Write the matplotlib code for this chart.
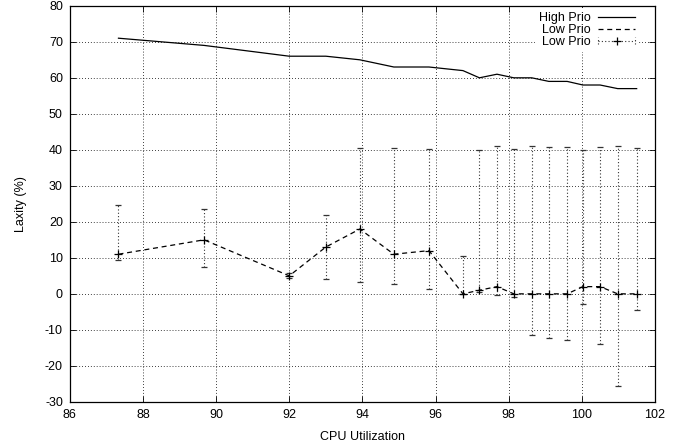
import matplotlib
matplotlib.use("Agg")
import matplotlib.pyplot as plt
from matplotlib.lines import Line2D
from matplotlib.legend_handler import HandlerBase
import numpy as np

# CPU utilization points (shared by both series)
cpu = [87.33, 89.67, 92.0, 93.0, 93.93, 94.86, 95.82, 96.75, 97.2, 97.68,
       98.14, 98.63, 99.1, 99.6, 100.03, 100.5, 100.98, 101.5]

high_prio = [71, 69, 66, 66, 65, 63, 63, 62, 60, 61,
             60, 60, 59, 59, 58, 58, 57, 57]

low_prio = [11, 15, 5, 13, 18, 11, 12, 0, 1, 2,
            0, 0, 0, 0, 2, 2, 0, 0]
low_max = [24.7, 23.6, 5.8, 21.9, 40.5, 40.5, 40.3, 10.5, 40, 41,
           40.3, 41, 40.9, 40.8, 40, 40.9, 41, 40.5]
low_min = [9.4, 7.5, 4.5, 4.2, 3.3, 2.8, 1.4, 0, 0.5, -0.3,
           -1, -11.4, -12.2, -12.9, -2.7, -13.9, -25.5, -4.4]

plt.rcParams['font.family'] = ['Liberation Sans', 'DejaVu Sans']
plt.rcParams['font.size'] = 9
plt.rcParams['axes.unicode_minus'] = False

DOT = (0, (1, 2))


class ErrHandler(HandlerBase):
    # gnuplot style key sample:  |...+...|
    def create_artists(self, legend, orig, xd, yd, w, h, fs, trans):
        yc = yd + h / 2.0
        line = Line2D([xd, xd + w], [yc, yc], color='#333333', lw=0.8, linestyle=DOT)
        c1 = Line2D([xd, xd], [yc - 2.5, yc + 2.5], color='#333333', lw=0.8, linestyle=DOT)
        c2 = Line2D([xd + w, xd + w], [yc - 2.5, yc + 2.5], color='#333333', lw=0.8, linestyle=DOT)
        mk = Line2D([xd + w / 2.0], [yc], marker='+', color='black', ms=6, mew=0.9, linestyle='none')
        arts = [line, c1, c2, mk]
        for a in arts:
            a.set_transform(trans)
        return arts


fig = plt.figure(figsize=(6.78, 4.46), dpi=100)
ax = fig.add_axes([0.103, 0.099, 0.863, 0.888])

low = np.array(low_prio)
yerr = [low - np.array(low_min), np.array(low_max) - low]

h1, = ax.plot(cpu, high_prio, color='black', lw=0.9, label='High Prio')
h2, = ax.plot(cpu, low_prio, color='black', lw=0.9, linestyle=(0, (4, 3)), label='Low Prio')
eb = ax.errorbar(cpu, low_prio, yerr=yerr, fmt='+', color='black', ms=6, mew=0.9,
                 ecolor='#333333', elinewidth=0.8, capsize=2, capthick=0.6,
                 label='Low Prio')
for lc in eb[2]:
    lc.set_linestyle(DOT)

ax.set_xlim(86, 102)
ax.set_ylim(-30, 80)
ax.set_xticks(np.arange(86, 103, 2))
ax.set_yticks(np.arange(-30, 81, 10))
ax.grid(True, color='black', linestyle=(0, (1, 2.5)), lw=0.6)
ax.tick_params(direction='in', top=True, right=True, length=4, width=0.6, pad=5)
for s in ax.spines.values():
    s.set_linewidth(0.9)

ax.set_xlabel('CPU Utilization', labelpad=7)
ax.set_ylabel('Laxity (%)', labelpad=13)

err_key = Line2D([], [])
leg = ax.legend([h1, h2, err_key], ['High Prio', 'Low Prio', 'Low Prio'],
                handler_map={err_key: ErrHandler()},
                loc='upper right', bbox_to_anchor=(0.976, 1.0),
                markerfirst=False, frameon=True, fancybox=False,
                edgecolor='none', facecolor='white', framealpha=1,
                handlelength=2.9, labelspacing=0.0, borderpad=0.3,
                handletextpad=0.6, borderaxespad=0.2)

fig.savefig('out.png', dpi=100)
